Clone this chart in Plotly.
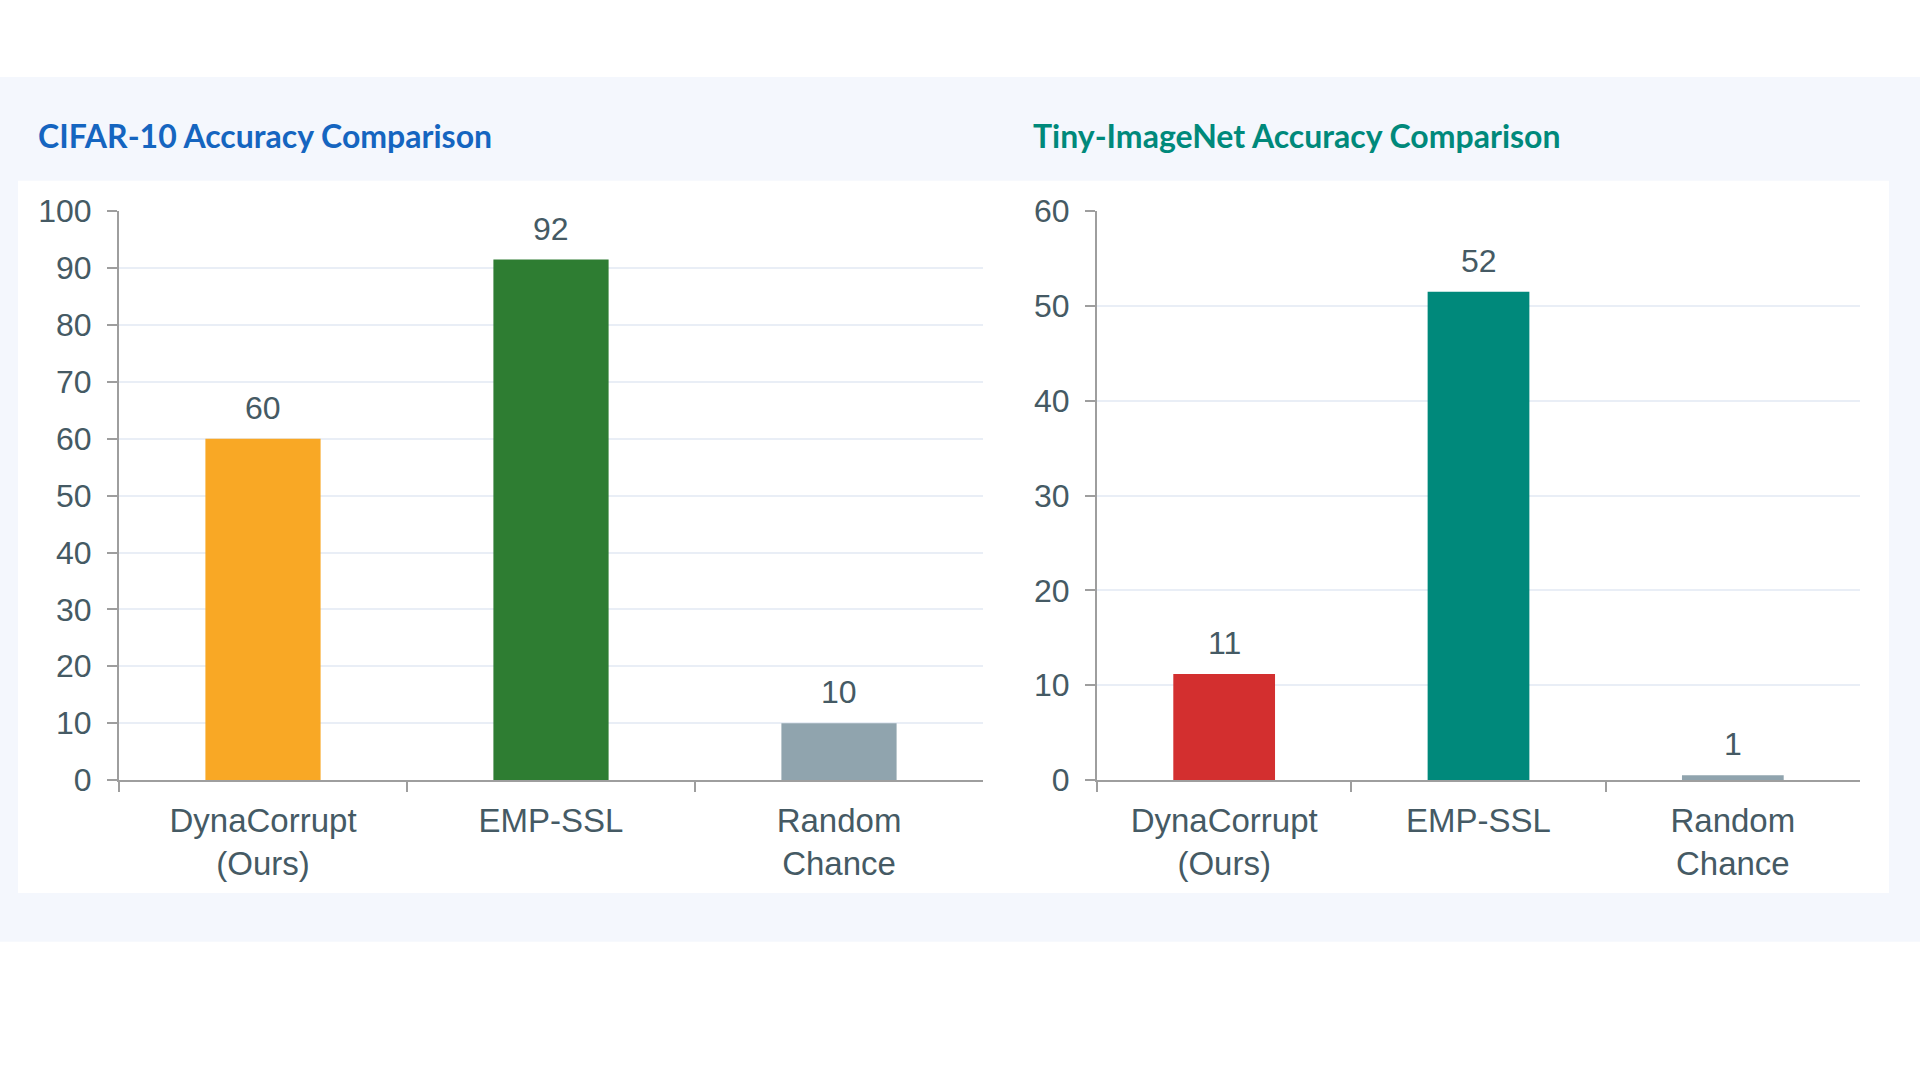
import plotly.graph_objects as go

W, H = 1920, 1080

categories = ["DynaCorrupt<br>(Ours)", "EMP-SSL", "Random<br>Chance"]
cifar_values = [60, 91.5, 10]
tiny_values = [11.2, 51.5, 0.5]
cifar_labels = ["60", "92", "10"]
tiny_labels = ["11", "52", "1"]
cifar_colors = ["#f9a825", "#2e7d32", "#90a4ae"]
tiny_colors = ["#d32f2f", "#00897b", "#90a4ae"]
cifar_ticks = [0, 10, 20, 30, 40, 50, 60, 70, 80, 90, 100]
tiny_ticks = [0, 10, 20, 30, 40, 50, 60]
titles = ["CIFAR-10 Accuracy Comparison", "Tiny-ImageNet Accuracy Comparison"]
title_colors = ["#1565c0", "#00897b"]

TEXT = "#455a64"
AXIS = "#9e9e9e"
GRID = "#e9eef6"
FONT = "Liberation Sans, Arial, sans-serif"


def px_x(v):
    return v / W


def px_y(r):
    # convert a desired on-screen y (px) into a paper fraction
    p = (r - 16.9) / 0.969
    return 1 - p / H


fig = go.Figure()

fig.add_trace(go.Bar(x=categories, y=cifar_values, marker=dict(color=cifar_colors, line=dict(width=0)),
                     xaxis="x", yaxis="y", showlegend=False, hoverinfo="skip"))
fig.add_trace(go.Bar(x=categories, y=tiny_values, marker=dict(color=tiny_colors, line=dict(width=0)),
                     xaxis="x2", yaxis="y2", showlegend=False, hoverinfo="skip"))

annotations = []
for xa, ya, vals, labs in [("x", "y", cifar_values, cifar_labels), ("x2", "y2", tiny_values, tiny_labels)]:
    for c, v, lab in zip(categories, vals, labs):
        annotations.append(dict(x=c, y=v, xref=xa, yref=ya, text=lab,
                                showarrow=False, yanchor="bottom", yshift=11,
                                font=dict(family=FONT, size=32, color=TEXT)))

for t, col, xp in zip(titles, title_colors, [36, 1031]):
    annotations.append(dict(x=px_x(xp), y=px_y(134.7), xref="paper", yref="paper", text=f"<b>{t}</b>",
                            showarrow=False, xanchor="left", yanchor="middle",
                            font=dict(family="Lato, Open Sans, sans-serif", size=32, color=col)))

shapes = [
    dict(type="rect", xref="paper", yref="paper", x0=0, x1=1, y0=px_y(943), y1=px_y(76),
         fillcolor="#f4f7fd", line=dict(width=0), layer="below"),
    dict(type="rect", xref="paper", yref="paper", x0=px_x(18), x1=px_x(1889), y0=px_y(894), y1=px_y(180),
         fillcolor="#ffffff", line=dict(width=0), layer="below"),
]


def xaxis_cfg(domain):
    return dict(domain=domain, type="category", range=[-0.5, 2.5], showline=True, linecolor=AXIS,
                linewidth=2, ticks="outside", tickson="boundaries", ticklen=10, tickcolor=AXIS,
                tickwidth=1.5, showgrid=False, zeroline=False, ticklabelstandoff=10,
                tickfont=dict(family=FONT, size=33, color=TEXT), fixedrange=True)


def yaxis_cfg(domain, anchor, rng, ticks):
    return dict(domain=domain, anchor=anchor, range=rng, tickvals=ticks, showline=True, linecolor=AXIS,
                linewidth=2, ticks="outside", ticklen=10, tickcolor=AXIS, tickwidth=1.5,
                showgrid=True, gridcolor=GRID, gridwidth=1.5, zeroline=False, ticklabelstandoff=9,
                tickfont=dict(family=FONT, size=32, color=TEXT), fixedrange=True)


ydom = [px_y(780.8), px_y(210.6)]

fig.update_layout(
    width=W, height=H,
    margin=dict(l=0, r=0, t=0, b=0),
    paper_bgcolor="#ffffff", plot_bgcolor="rgba(0,0,0,0)",
    bargap=0.6,
    xaxis=xaxis_cfg([px_x(119), px_x(983)]) | dict(anchor="y"),
    yaxis=yaxis_cfg(ydom, "x", [0, 100], cifar_ticks),
    xaxis2=xaxis_cfg([px_x(1097), px_x(1860)]) | dict(anchor="y2"),
    yaxis2=yaxis_cfg(ydom, "x2", [0, 60], tiny_ticks),
    annotations=annotations,
    shapes=shapes,
)

fig.write_html("out.html")
